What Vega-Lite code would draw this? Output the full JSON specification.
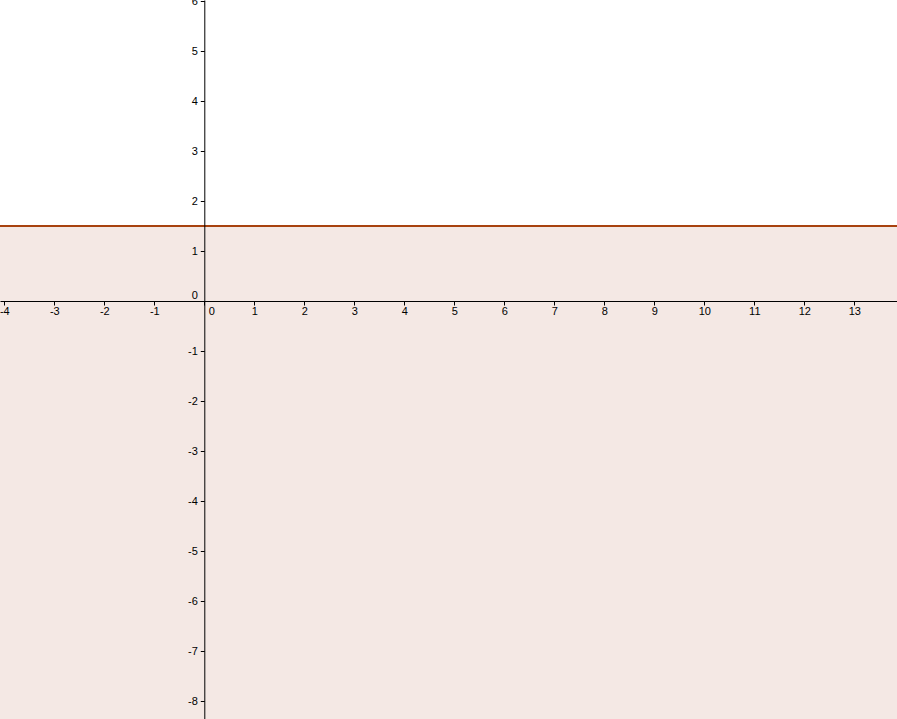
{
  "$schema": "https://vega.github.io/schema/vega-lite/v6.json",
  "width": 897,
  "height": 719,
  "autosize": "none",
  "padding": 0,
  "background": "white",
  "config": {"view": {"stroke": null}},
  "datasets": {
    "region": [{"x1": -5, "x2": 15, "y1": -9, "y2": 1.5}],
    "boundary": [{"y": 1.5}]
  },
  "layer": [
    {
      "data": {"name": "region"},
      "mark": {"type": "rect", "color": "#f4e8e4", "clip": true},
      "encoding": {
        "x": {
          "field": "x1", "type": "quantitative",
          "scale": {"domain": [-4.086, 13.854], "nice": false, "zero": false},
          "axis": {
            "orient": "bottom", "offset": -418, "zindex": 1,
            "values": [-4, -3, -2, -1, 0, 1, 2, 3, 4, 5, 6, 7, 8, 9, 10, 11, 12, 13],
            "labelExpr": "'' + datum.value",
            "title": null, "grid": false,
            "domainColor": "#000000", "domainWidth": 1,
            "tickColor": "#000000", "tickSize": 4, "tickWidth": 1,
            "labelFont": "Liberation Sans", "labelFontSize": 11, "labelColor": "#000000",
            "labelPadding": 0, "labelFlush": false, "labelOverlap": false,
            "labelOffset": {"condition": {"test": "datum.value === 0", "value": 7}, "value": 0}
          }
        },
        "x2": {"field": "x2"},
        "y": {
          "field": "y1", "type": "quantitative",
          "scale": {"domain": [-8.36, 6.02], "nice": false, "zero": false},
          "axis": {
            "orient": "left", "offset": -204.3, "zindex": 1,
            "values": [-8, -7, -6, -5, -4, -3, -2, -1, 0, 1, 2, 3, 4, 5, 6],
            "labelExpr": "'' + datum.value",
            "title": null, "grid": false,
            "domainColor": "#000000", "domainWidth": 1,
            "tickColor": "#000000", "tickSize": 4, "tickWidth": 1,
            "labelFont": "Liberation Sans", "labelFontSize": 11, "labelColor": "#000000",
            "labelPadding": 3, "labelFlush": false, "labelOverlap": false,
            "labelOffset": {"condition": {"test": "datum.value === 0", "value": -6}, "value": 0}
          }
        },
        "y2": {"field": "y2"}
      }
    },
    {
      "data": {"name": "boundary"},
      "mark": {"type": "rule", "color": "#a8420f", "strokeWidth": 2},
      "encoding": {
        "y": {"field": "y", "type": "quantitative"}
      }
    }
  ]
}
